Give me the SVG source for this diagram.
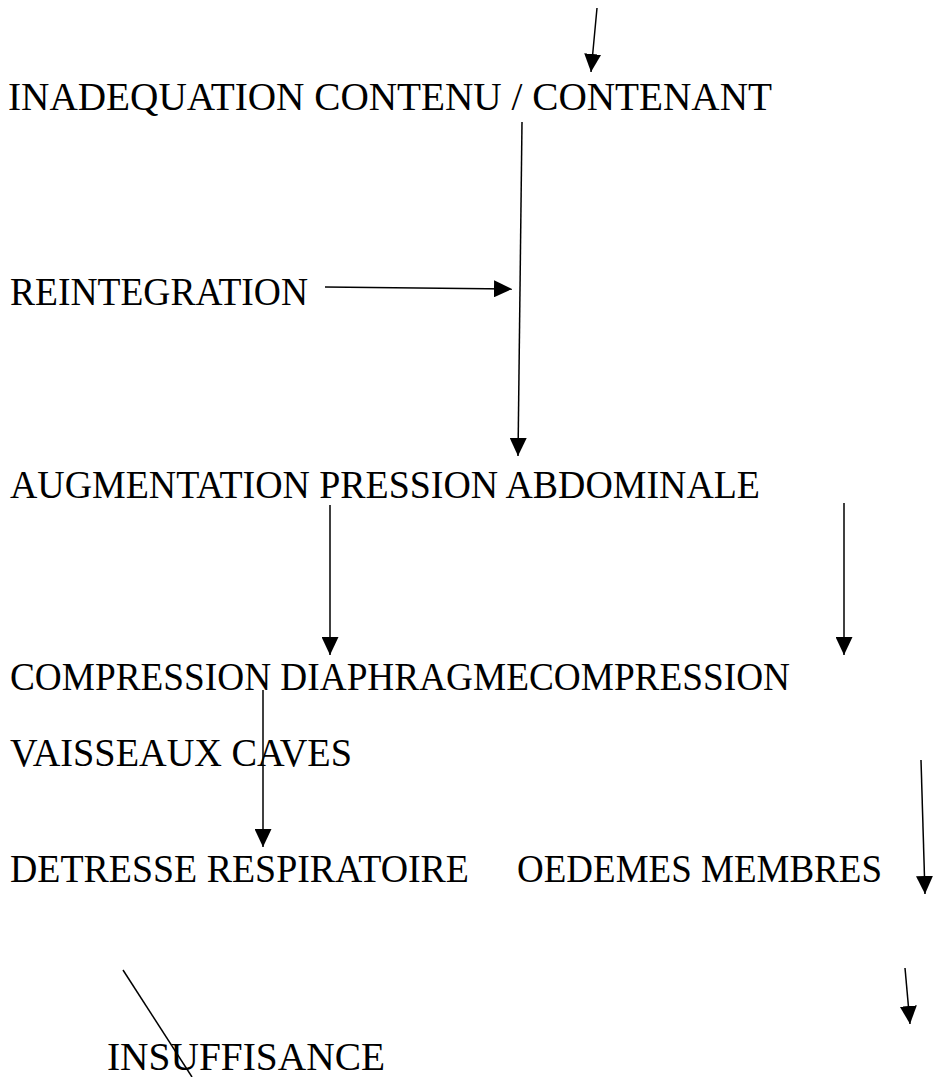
<svg xmlns="http://www.w3.org/2000/svg" width="933" height="1077" viewBox="0 0 933 1077">
<defs>
<style>
text{font-family:"Liberation Serif","Times New Roman",serif;font-size:40px;fill:#000}
.c line{stroke:#000;stroke-width:1.5}
.a{marker-end:url(#h)}
</style>
<marker id="h" markerUnits="userSpaceOnUse" markerWidth="18" markerHeight="17" refX="18" refY="8.5" orient="auto" viewBox="0 0 18 17">
<path d="M0,0 L18,8.5 L0,17 Z" fill="#000"/>
</marker>
</defs>
<rect width="933" height="1077" fill="#fff"/>
<g id="n1"><text x="8" y="110" textLength="764" lengthAdjust="spacingAndGlyphs">INADEQUATION CONTENU / CONTENANT</text></g>
<g id="n2"><text x="10" y="305" textLength="298" lengthAdjust="spacingAndGlyphs">REINTEGRATION</text></g>
<g id="n3"><text x="10" y="498" textLength="750" lengthAdjust="spacingAndGlyphs">AUGMENTATION PRESSION ABDOMINALE</text></g>
<g id="n4"><text x="10" y="690" textLength="780" lengthAdjust="spacingAndGlyphs">COMPRESSION DIAPHRAGMECOMPRESSION</text></g>
<g id="n5"><text x="10" y="766" textLength="342" lengthAdjust="spacingAndGlyphs">VAISSEAUX CAVES</text></g>
<g id="n6"><text x="10" y="882" textLength="459" lengthAdjust="spacingAndGlyphs">DETRESSE RESPIRATOIRE</text></g>
<g id="n7"><text x="517" y="882" textLength="365" lengthAdjust="spacingAndGlyphs">OEDEMES MEMBRES</text></g>
<g id="n8"><text x="107" y="1070" textLength="278" lengthAdjust="spacingAndGlyphs">INSUFFISANCE</text></g>
<g id="connectors" class="c">
<line class="a" x1="597" y1="8" x2="591" y2="72"/>
<line class="a" x1="522" y1="122" x2="518" y2="456"/>
<line class="a" x1="325" y1="287" x2="512" y2="289"/>
<line class="a" x1="330" y1="505" x2="330" y2="655"/>
<line class="a" x1="844" y1="503" x2="844" y2="655"/>
<line class="a" x1="263" y1="690" x2="263" y2="847"/>
<line class="a" x1="921" y1="760" x2="925" y2="894"/>
<line class="a" x1="905" y1="968" x2="910" y2="1024"/>
<line x1="123" y1="970" x2="192" y2="1077"/>
</g>
</svg>
